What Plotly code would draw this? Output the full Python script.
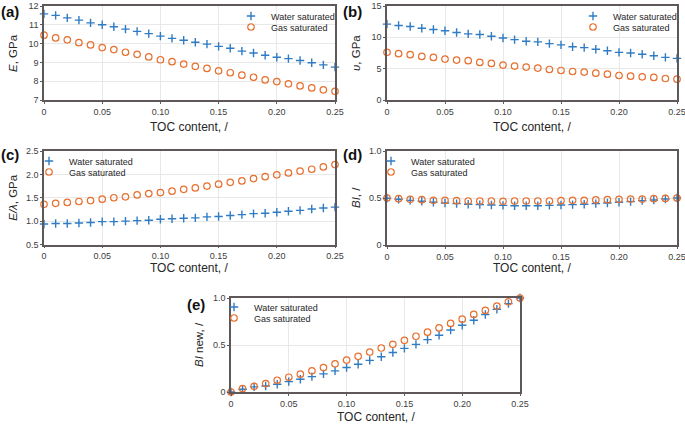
import plotly.graph_objects as go

toc = [round(i * 0.01, 2) for i in range(26)]

E_water = [11.58, 11.5, 11.37, 11.25, 11.1, 11.0, 10.9, 10.77, 10.65, 10.53, 10.4, 10.28, 10.18,
           10.07, 9.97, 9.85, 9.75, 9.6, 9.5, 9.38, 9.27, 9.2, 9.1, 8.98, 8.87, 8.75]
E_gas = [10.45, 10.3, 10.2, 10.05, 9.93, 9.79, 9.68, 9.54, 9.43, 9.29, 9.14, 9.04, 8.91,
         8.79, 8.68, 8.55, 8.45, 8.32, 8.21, 8.07, 7.98, 7.86, 7.75, 7.64, 7.54, 7.46]

nu_water = [12.1, 11.9, 11.73, 11.46, 11.25, 11.04, 10.77, 10.55, 10.45, 10.18, 9.9, 9.64, 9.37,
            9.27, 9.0, 8.79, 8.5, 8.36, 8.1, 7.87, 7.6, 7.5, 7.29, 7.07, 6.8, 6.64]
nu_gas = [7.6, 7.39, 7.23, 6.96, 6.8, 6.53, 6.37, 6.27, 6.0, 5.84, 5.57, 5.41, 5.25,
          5.09, 4.87, 4.71, 4.55, 4.45, 4.28, 4.12, 3.91, 3.8, 3.7, 3.6, 3.43, 3.32]

El_water = [0.94, 0.95, 0.95, 0.96, 0.97, 0.99, 0.99, 1.0, 1.01, 1.02, 1.04, 1.05, 1.06,
            1.07, 1.09, 1.1, 1.12, 1.14, 1.16, 1.17, 1.19, 1.21, 1.23, 1.26, 1.28, 1.3]
El_gas = [1.36, 1.38, 1.4, 1.42, 1.44, 1.47, 1.5, 1.52, 1.56, 1.59, 1.61, 1.64, 1.68,
          1.71, 1.75, 1.79, 1.83, 1.86, 1.91, 1.95, 1.99, 2.03, 2.07, 2.11, 2.16, 2.21]

BI_water = [0.497, 0.486, 0.475, 0.465, 0.454, 0.447, 0.44, 0.433, 0.429, 0.426, 0.422, 0.418, 0.418,
            0.418, 0.422, 0.426, 0.429, 0.433, 0.44, 0.447, 0.454, 0.461, 0.472, 0.479, 0.489, 0.5]
BI_gas = [0.5, 0.493, 0.486, 0.482, 0.475, 0.475, 0.472, 0.468, 0.468, 0.468, 0.465, 0.468, 0.468,
          0.468, 0.468, 0.472, 0.475, 0.475, 0.479, 0.482, 0.486, 0.489, 0.489, 0.493, 0.496, 0.5]

BInew_water = [0.0, 0.029, 0.054, 0.064, 0.082, 0.11, 0.136, 0.164, 0.193, 0.225, 0.26, 0.296, 0.336,
               0.375, 0.42, 0.464, 0.507, 0.557, 0.604, 0.66, 0.71, 0.764, 0.825, 0.88, 0.94, 1.0]
BInew_gas = [0.0, 0.036, 0.06, 0.09, 0.125, 0.157, 0.19, 0.225, 0.26, 0.3, 0.34, 0.38, 0.425,
             0.468, 0.507, 0.55, 0.593, 0.636, 0.682, 0.729, 0.775, 0.825, 0.868, 0.914, 0.96, 1.0]

x_tickvals = [0, 0.05, 0.10, 0.15, 0.20, 0.25]
x_ticktext = ["0", "0.05", "0.10", "0.15", "0.20", "0.25"]

series_names = ["Water saturated", "Gas saturated"]

W, H = 685, 427
BLUE = "#2f7cc4"
ORANGE = "#e8702f"
FONT = "Liberation Sans, Arial, sans-serif"

def px_x(p):
    return p / W

def px_y(p):
    return 1 - p / H

panels = [
    dict(lbl="(a)", x=(44, 335), y=(6, 100), w=E_water, g=E_gas, yr=[7, 12],
         yv=[7, 8, 9, 10, 11, 12], yt=["7", "8", "9", "10", "11", "12"],
         yti="<i>E</i>, GPa", ytx=13, leg=(231, 16), lblpos=(10, 11), xtpos=127),
    dict(lbl="(b)", x=(387, 677), y=(6, 100), w=nu_water, g=nu_gas, yr=[0, 15],
         yv=[0, 5, 10, 15], yt=["0", "5", "10", "15"],
         yti="<i>υ</i>, GPa", ytx=356, leg=(573, 16), lblpos=(353, 11), xtpos=127),
    dict(lbl="(c)", x=(44, 335), y=(151, 244.5), w=El_water, g=El_gas, yr=[0.5, 2.5],
         yv=[0.5, 1.0, 1.5, 2.0, 2.5], yt=["0.5", "1.0", "1.5", "2.0", "2.5"],
         yti="<i>E/λ</i>, GPa", ytx=13, leg=(29, 161), lblpos=(10, 155), xtpos=268),
    dict(lbl="(d)", x=(387, 677), y=(151, 245), w=BI_water, g=BI_gas, yr=[0, 1],
         yv=[0, 0.5, 1.0], yt=["0", "0.5", "1.0"],
         yti="<i>BI</i>, /", ytx=356, leg=(371, 161), lblpos=(353, 155), xtpos=268),
    dict(lbl="(e)", x=(231, 520), y=(298, 392), w=BInew_water, g=BInew_gas, yr=[0, 1],
         yv=[0, 0.5, 1.0], yt=["0", "0.5", "1.0"],
         yti="<i>BI</i> new, /", ytx=199, leg=(214, 307), lblpos=(196, 304), xtpos=417),
]

fig = go.Figure()
layout = dict(
    width=W, height=H, margin=dict(l=0, r=0, t=0, b=0, autoexpand=False),
    paper_bgcolor="white", plot_bgcolor="white",
    font=dict(family=FONT, color="#404040", size=9),
    showlegend=True,
)
annotations = []

for i, p in enumerate(panels):
    k = "" if i == 0 else str(i + 1)
    xa, ya = "x" + k, "y" + k
    lw, lg = "legend" + (str(2 * i + 1) if i > 0 else ""), "legend" + str(2 * i + 2)
    fig.add_trace(go.Scatter(
        x=toc, y=p["w"], mode="markers", name=series_names[0], xaxis=xa, yaxis=ya,
        marker=dict(symbol="cross-thin", size=6, line=dict(color=BLUE, width=1.4), color=BLUE),
        cliponaxis=False, legend=lw))
    fig.add_trace(go.Scatter(
        x=toc, y=p["g"], mode="markers", name=series_names[1], xaxis=xa, yaxis=ya,
        marker=dict(symbol="circle-open", size=6.5, line=dict(color=ORANGE, width=1.2), color=ORANGE),
        cliponaxis=False, legend=lg))
    axis_common = dict(showline=True, linecolor="#5e5858", linewidth=1.5, mirror=True,
                       showgrid=True, gridcolor="#e8e8e8", gridwidth=1, zeroline=False,
                       ticks="outside", ticklen=2, tickcolor="#5e5858",
                       tickfont=dict(size=9, color="#404040", family=FONT), automargin=False,
                       ticklabeloverflow="allow")
    layout["xaxis" + k] = dict(domain=[px_x(p["x"][0]), px_x(p["x"][1])], range=[0, 0.25],
                               tickvals=x_tickvals, ticktext=x_ticktext,
                               anchor=ya, ticklabelstandoff=0, **axis_common)
    layout["yaxis" + k] = dict(domain=[px_y(p["y"][1]), px_y(p["y"][0])], range=p["yr"],
                               tickvals=p["yv"], ticktext=p["yt"],
                               anchor=xa, **axis_common)
    lx, ly = p["leg"]
    for j, nm in enumerate([lw, lg]):
        layout[nm] = dict(x=px_x(lx), y=px_y(ly + 11 * j), xanchor="left", yanchor="middle",
                          bgcolor="rgba(0,0,0,0)", borderwidth=0,
                          font=dict(size=9, color="#262626", family=FONT),
                          itemwidth=30, tracegroupgap=0)
    annotations.append(dict(text="<b>" + p["lbl"] + "</b>", x=px_x(p["lblpos"][0]), y=px_y(p["lblpos"][1]),
                            xref="paper", yref="paper", showarrow=False, xanchor="center", yanchor="middle",
                            font=dict(size=15, color="#111111", family=FONT)))
    annotations.append(dict(text="TOC content, /", x=px_x((p["x"][0] + p["x"][1]) / 2), y=px_y(p["xtpos"]),
                            xref="paper", yref="paper", showarrow=False, xanchor="center", yanchor="middle",
                            font=dict(size=12, color="#262626", family=FONT)))
    annotations.append(dict(text=p["yti"], x=px_x(p["ytx"]), y=px_y((p["y"][0] + p["y"][1]) / 2),
                            xref="paper", yref="paper", showarrow=False, xanchor="center", yanchor="middle",
                            textangle=-90, font=dict(size=11.5, color="#262626", family=FONT)))

layout["annotations"] = annotations
fig.update_layout(**layout)
fig.write_html("out.html", config={"displayModeBar": False},
               post_script="document.body.style.margin='0';document.body.style.overflow='hidden';")
